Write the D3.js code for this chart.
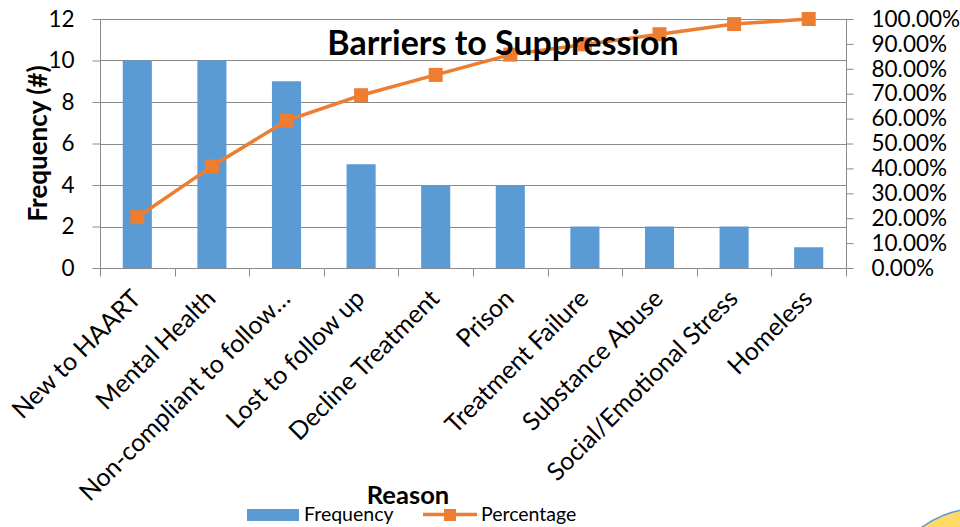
<!DOCTYPE html>
<html>
<head>
<meta charset="utf-8">
<script src="https://cdn.jsdelivr.net/npm/d3@7"></script>
<style>
  html, body { margin: 0; padding: 0; background: #ffffff; }
  svg { display: block; font-family: Lato, "Open Sans", sans-serif; }
</style>
</head>
<body>
<svg id="chart" width="960" height="527"></svg>
<script>
// Reasons reported as barriers to viral suppression
const reasons = [
  "New to HAART", "Mental Health", "Non-compliant to follow\u2026", "Lost to follow up",
  "Decline Treatment", "Prison", "Treatment Failure", "Substance Abuse",
  "Social/Emotional Stress", "Homeless"
];
// Count of patients per reason
const frequency = [10, 10, 9, 5, 4, 4, 2, 2, 2, 1];
// Cumulative share of all reasons (%)
const percentage = [20.41, 40.82, 59.18, 69.39, 77.55, 85.71, 89.80, 93.88, 97.96, 100];
// Axis tick values
const freqTicks = [0, 2, 4, 6, 8, 10, 12];
const pctTicks = [0, 10, 20, 30, 40, 50, 60, 70, 80, 90, 100];

const barColor = "#5B9BD5";
const lineColor = "#ED7D31";
const gridColor = "#8a8a8a";
const textColor = "#000000";

const svg = d3.select("#chart");
const plot = { left: 100, right: 846, top: 19, bottom: 268 };

const x = d3.scaleBand()
  .domain(reasons)
  .range([plot.left, plot.right])
  .paddingInner(0.61)
  .paddingOuter(0.305);
const step = x.step();
const cx = d => x(d) + x.bandwidth() / 2;

const yFreq = d3.scaleLinear().domain([0, 12]).range([plot.bottom, plot.top]);
const yPct = d3.scaleLinear().domain([0, 100]).range([plot.bottom, plot.top]);

// Decorative badge in the lower right corner
svg.append("circle")
  .attr("cx", 982).attr("cy", 612).attr("r", 104)
  .attr("fill", "#FFD966")
  .attr("stroke", "#5B9BD5")
  .attr("stroke-width", 1.5);

// Horizontal gridlines
svg.append("g")
  .selectAll("line")
  .data(freqTicks.filter(t => t > 0))
  .join("line")
  .attr("x1", plot.left).attr("x2", plot.right)
  .attr("y1", d => Math.round(yFreq(d)) + 0.5)
  .attr("y2", d => Math.round(yFreq(d)) + 0.5)
  .attr("stroke", gridColor)
  .attr("stroke-width", 1);

// Left axis
const leftAxis = svg.append("g")
  .attr("transform", `translate(${plot.left + 0.5},0)`)
  .call(d3.axisLeft(yFreq).tickValues(freqTicks).tickSize(8).tickPadding(18).tickFormat(d3.format("d")));

// Right axis
const rightAxis = svg.append("g")
  .attr("transform", `translate(${plot.right + 0.5},0)`)
  .call(d3.axisRight(yPct).tickValues(pctTicks).tickSize(7).tickPadding(18).tickFormat(d => d.toFixed(2) + "%"));

// Bottom axis with ticks between categories
const bottomAxis = svg.append("g")
  .attr("transform", `translate(0,${plot.bottom + 0.5})`);
bottomAxis.append("line")
  .attr("x1", plot.left).attr("x2", plot.right)
  .attr("stroke", gridColor);
bottomAxis.selectAll("line.tick")
  .data(d3.range(reasons.length + 1))
  .join("line")
  .attr("class", "tick")
  .attr("x1", i => Math.round(plot.left + i * step) + 0.5)
  .attr("x2", i => Math.round(plot.left + i * step) + 0.5)
  .attr("y1", 0).attr("y2", 8)
  .attr("stroke", gridColor);

[leftAxis, rightAxis].forEach(g => {
  g.select(".domain").attr("stroke", gridColor);
  g.selectAll(".tick line").attr("stroke", gridColor);
  g.selectAll(".tick text")
    .attr("fill", textColor)
    .style("font-family", "Lato, sans-serif")
    .style("font-size", "22.5px");
});
leftAxis.select(".domain").attr("d", `M0,${plot.top}V${plot.bottom}`);
rightAxis.select(".domain").attr("d", `M0,${plot.top}V${plot.bottom}`);

// Category labels
svg.append("g")
  .selectAll("text")
  .data(reasons)
  .join("text")
  .attr("transform", d => `translate(${cx(d) - 1},${plot.bottom + 26}) rotate(-45)`)
  .attr("text-anchor", "end")
  .attr("dy", "0.35em")
  .attr("fill", textColor)
  .style("font-size", "25px")
  .text(d => d);

// Frequency bars
svg.append("g")
  .selectAll("rect")
  .data(reasons)
  .join("rect")
  .attr("x", d => x(d))
  .attr("width", x.bandwidth())
  .attr("y", (d, i) => yFreq(frequency[i]))
  .attr("height", (d, i) => plot.bottom - yFreq(frequency[i]))
  .attr("fill", barColor);

// Cumulative percentage line
const line = d3.line()
  .x((d, i) => cx(reasons[i]))
  .y(d => yPct(d));
svg.append("path")
  .datum(percentage)
  .attr("d", line)
  .attr("fill", "none")
  .attr("stroke", lineColor)
  .attr("stroke-width", 3.5)
  .attr("stroke-linejoin", "round");
svg.append("g")
  .selectAll("rect")
  .data(percentage)
  .join("rect")
  .attr("x", (d, i) => cx(reasons[i]) - 7)
  .attr("y", d => yPct(d) - 7)
  .attr("width", 14).attr("height", 14)
  .attr("fill", lineColor);

// Axis titles
svg.append("text")
  .attr("transform", `translate(47,${(plot.top + plot.bottom) / 2}) rotate(-90)`)
  .attr("text-anchor", "middle")
  .attr("fill", textColor)
  .style("font-size", "26px")
  .style("font-weight", "bold")
  .text("Frequency (#)");

svg.append("text")
  .attr("x", 408).attr("y", 504)
  .attr("text-anchor", "middle")
  .attr("fill", textColor)
  .style("font-size", "25.5px")
  .style("font-weight", "bold")
  .text("Reason");

// Legend
const legend = svg.append("g");
legend.append("rect")
  .attr("x", 247).attr("y", 509).attr("width", 52).attr("height", 12)
  .attr("fill", barColor);
legend.append("text")
  .attr("x", 304).attr("y", 521)
  .attr("fill", textColor)
  .style("font-size", "19.5px")
  .text("Frequency");
legend.append("line")
  .attr("x1", 423).attr("x2", 477).attr("y1", 514.5).attr("y2", 514.5)
  .attr("stroke", lineColor).attr("stroke-width", 3.5);
legend.append("rect")
  .attr("x", 444).attr("y", 509).attr("width", 12).attr("height", 12)
  .attr("fill", lineColor);
legend.append("text")
  .attr("x", 481).attr("y", 521)
  .attr("fill", textColor)
  .style("font-size", "19.5px")
  .text("Percentage");

// Chart title
svg.append("text")
  .attr("x", 503).attr("y", 55)
  .attr("text-anchor", "middle")
  .attr("fill", textColor)
  .style("font-size", "34px")
  .style("font-weight", "bold")
  .text("Barriers to Suppression");
</script>
</body>
</html>
